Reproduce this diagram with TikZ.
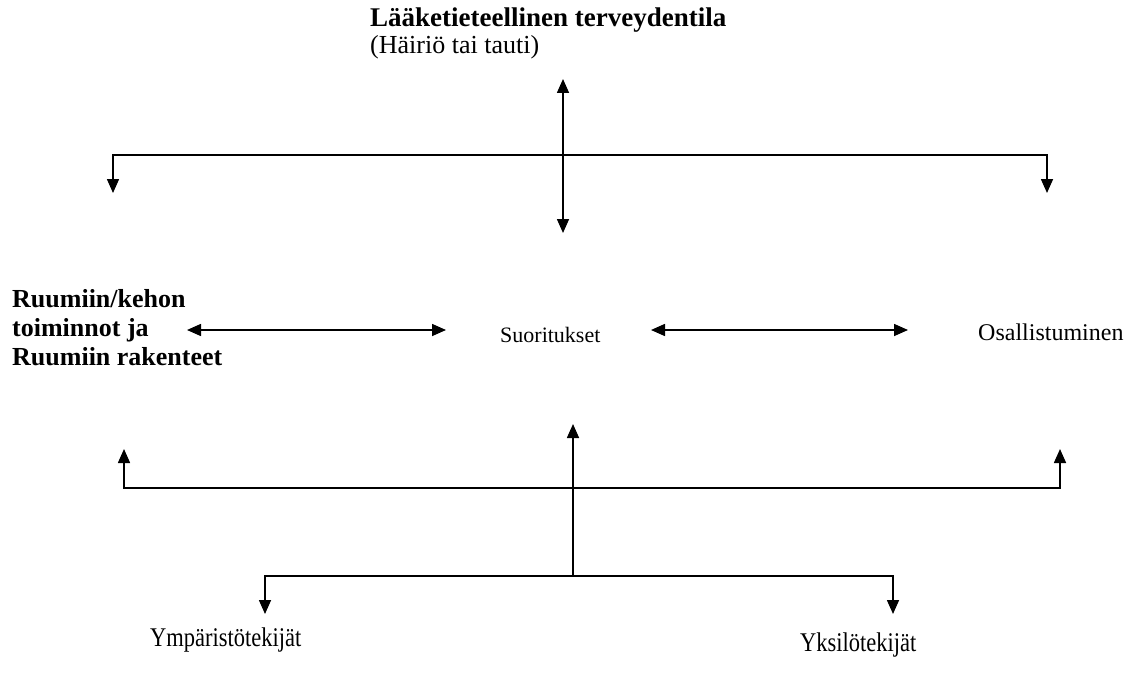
\documentclass[tikz,border=0pt]{standalone}
\usepackage{fontspec}
\setmainfont{Liberation Serif}
\usetikzlibrary{arrows.meta}
\begin{document}
\begin{tikzpicture}[x=1pt,y=-1pt,
  lbl/.style={inner sep=0pt,anchor=base west,font=\fontsize{24}{28}\selectfont},
  lblb/.style={lbl,font=\fontsize{26}{30}\selectfont\bfseries},
  conn/.style={line width=1.6pt},
  tip/.style={-{Triangle[length=14pt,width=12pt]}},
  dtip/.style={{Triangle[length=14pt,width=12pt]}-{Triangle[length=14pt,width=12pt]}}]
\useasboundingbox[fill=white] (0,0) rectangle (1136,677);
% texts
\node[lblb,font=\fontsize{27}{31}\selectfont\bfseries] (top1) at (370,27) {Lääketieteellinen terveydentila};
\node[lbl,font=\fontsize{26}{30}\selectfont] (top2) at (370,54) {(Häiriö tai tauti)};
\node[lblb] (l1) at (12,307) {Ruumiin/kehon};
\node[lblb] (l2) at (12,336) {toiminnot ja};
\node[lblb] (l3) at (12,365) {Ruumiin rakenteet};
\node[lbl,font=\fontsize{22}{26}\selectfont] (suo) at (500,342) {Suoritukset};
\node[lbl] (osa) at (978,340) {Osallistuminen};
\node[lbl,font=\fontsize{22.5}{26}\selectfont] (ymp) at (150,646) {\scalebox{1}[1.2]{Ympäristötekijät}};
\node[lbl,font=\fontsize{22.5}{26}\selectfont] (yks) at (800,651) {\scalebox{1}[1.2]{Yksilötekijät}};
% coordinates
\coordinate (vtop) at (563,79);
\coordinate (vbot) at (563,233);
\coordinate (hl) at (113,155);
\coordinate (hr) at (1047,155);
\coordinate (hlt) at (113,193);
\coordinate (hrt) at (1047,193);
\coordinate (al) at (187,330);
\coordinate (ar) at (446,330);
\coordinate (bl) at (651,330);
\coordinate (br) at (908,330);
\coordinate (ll) at (124,488);
\coordinate (lr) at (1060,488);
\coordinate (llt) at (124,449);
\coordinate (lrt) at (1060,449);
\coordinate (mt) at (573,424);
\coordinate (mb) at (573,576);
\coordinate (gl) at (265,576);
\coordinate (gr) at (893,576);
\coordinate (glt) at (265,614);
\coordinate (grt) at (893,614);
% connectors
\draw[conn,dtip] (vtop) -- (vbot);
\draw[conn,tip] (hr) -- (hl) -- (hlt);
\draw[conn,tip] (hl) -- (hr) -- (hrt);
\draw[conn,dtip] (al) -- (ar);
\draw[conn,dtip] (bl) -- (br);
\draw[conn,tip] (lr) -- (ll) -- (llt);
\draw[conn,tip] (ll) -- (lr) -- (lrt);
\draw[conn,tip] (mb) -- (mt);
\draw[conn,tip] (gr) -- (gl) -- (glt);
\draw[conn,tip] (gl) -- (gr) -- (grt);
\end{tikzpicture}
\end{document}
